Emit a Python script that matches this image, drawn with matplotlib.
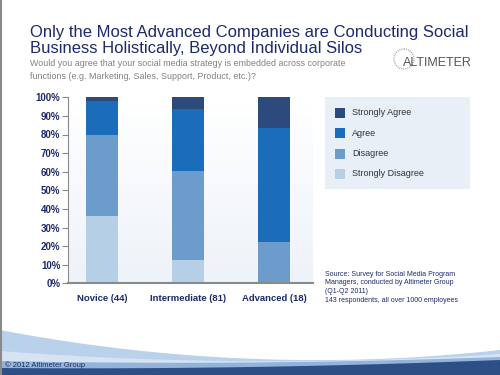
import numpy as np
import matplotlib
matplotlib.use("Agg")
import matplotlib.pyplot as plt
from matplotlib.patches import Rectangle, Circle

plt.rcParams['font.family'] = ['Liberation Sans', 'DejaVu Sans']

# Data (percent of respondents)
groups = ['Novice (44)', 'Intermediate (81)', 'Advanced (18)']
strongly_disagree = [36.4, 12.3, 0.0]
disagree = [43.2, 48.1, 22.2]
agree = [18.2, 33.4, 61.1]
strongly_agree = [2.2, 6.2, 16.7]

series = [('Strongly Disagree', strongly_disagree, '#b5cfe6'),
          ('Disagree', disagree, '#6b9ccb'),
          ('Agree', agree, '#1b6cb9'),
          ('Strongly Agree', strongly_agree, '#2c4a7c')]

navy = '#1c2a6b'

fig = plt.figure(figsize=(5, 3.75), dpi=100)

# background layer in pixel coordinates
bg = fig.add_axes([0, 0, 1, 1], zorder=0)
bg.set_xlim(0, 500)
bg.set_ylim(375, 0)
bg.axis('off')
xs = np.linspace(0, 500, 200)
t = xs / 500.0
c1 = 330 + 95 * t - 75 * t ** 2       # light blue edge
c2 = 351 + 38 * t - 35 * t ** 2       # pale band
c3 = 361 + 10 * t - 14 * t ** 2       # mid blue
c4 = 368 + 4 * t - 12 * t ** 2        # dark bar
bg.fill_between(xs, c1, 375, color='#bad1ec', lw=0)
bg.fill_between(xs, c2, 375, color='#d5e3f3', lw=0)
bg.fill_between(xs, c3, 375, color='#92b3da', lw=0)
bg.fill_between(xs, c4, 375, color='#2d4f86', lw=0)
bg.plot([1, 1], [0, 375], color='#8a8a8a', lw=1.5)
bg.text(5, 365.5, '\u00a9 2012 Altimeter Group', fontsize=5.5, color='#1f2f5e', va='center')

# plot area gradient
bg.imshow(np.linspace(0, 1, 50).reshape(-1, 1), cmap=matplotlib.colors.LinearSegmentedColormap.from_list('g', ['#ffffff', '#eef3f9']),
          extent=[68, 313, 283, 97], aspect='auto', zorder=0)

# legend box
bg.add_patch(Rectangle((325, 97), 145, 92, facecolor='#e9eff7', edgecolor='none'))
for i, (name, vals, col) in enumerate(reversed(series)):
    yy = 112.5 + i * 20.5
    bg.add_patch(Rectangle((335, yy - 5), 10, 10, facecolor=col, edgecolor='none'))
    bg.text(352, yy, name, fontsize=6.5, color='#333333', va='center')

# source
src = ['Source: Survey for Social Media Program',
       'Managers, conducted by Altimeter Group',
       '(Q1-Q2 2011)']
for i, s in enumerate(src):
    bg.text(325, 274 + i * 8.7, s, fontsize=5, color=navy, va='center')
bg.text(325, 301, '143 respondents, all over 1000 employees', fontsize=5, color=navy, va='center')

# titles
bg.text(30, 37, 'Only the Most Advanced Companies are Conducting Social',
        fontsize=12.0, color=navy, va='baseline', ha='left')
bg.text(30, 53, 'Business Holistically, Beyond Individual Silos',
        fontsize=12.0, color=navy, va='baseline', ha='left')
bg.text(30, 65.5, 'Would you agree that your social media strategy is embedded across corporate',
        fontsize=6.4, color='#808080', va='baseline', ha='left')
bg.text(30, 79, 'functions (e.g. Marketing, Sales, Support, Product, etc.)?',
        fontsize=6.4, color='#808080', va='baseline', ha='left')

# logo
bg.add_patch(Circle((404, 59), 10, fill=False, edgecolor='#7a7a7a', lw=1.0, linestyle=(0, (0.5, 1.0))))
bg.text(403, 63, 'ALTIMETER', fontsize=9, color='#555555', va='center', ha='left')

# chart
ax = fig.add_axes([68 / 500, 1 - 283.3 / 375, 245 / 500, 186 / 375], zorder=2)
ax.patch.set_alpha(0)
x = np.arange(len(groups))
bottom = np.zeros(len(groups))
for name, vals, col in series:
    ax.bar(x, vals, 0.37, bottom=bottom, color=col, label=name, zorder=2)
    bottom += np.array(vals)

ax.set_xlim(-0.4, 2.45)
ax.set_ylim(0, 100)
ax.set_yticks(np.arange(0, 101, 10))
ax.set_yticklabels([f'{v}%' for v in range(0, 101, 10)])
ax.set_xticks(x)
ax.set_xticklabels(groups)
for lab in ax.get_yticklabels() + ax.get_xticklabels():
    lab.set_fontweight('bold')
    lab.set_color(navy)
for lab in ax.get_yticklabels():
    lab.set_fontsize(7)
for lab in ax.get_xticklabels():
    lab.set_fontsize(6.8)
ax.tick_params(axis='y', length=4, width=0.8, color='#888888', pad=1.5)
ax.tick_params(axis='x', length=0, pad=8)
for s in ['top', 'right']:
    ax.spines[s].set_visible(False)
ax.spines['left'].set_color('#888888')
ax.spines['left'].set_linewidth(0.8)
ax.spines['bottom'].set_color('#8a8a8a')
ax.spines['bottom'].set_linewidth(1.5)

fig.savefig('out.png', dpi=100)
